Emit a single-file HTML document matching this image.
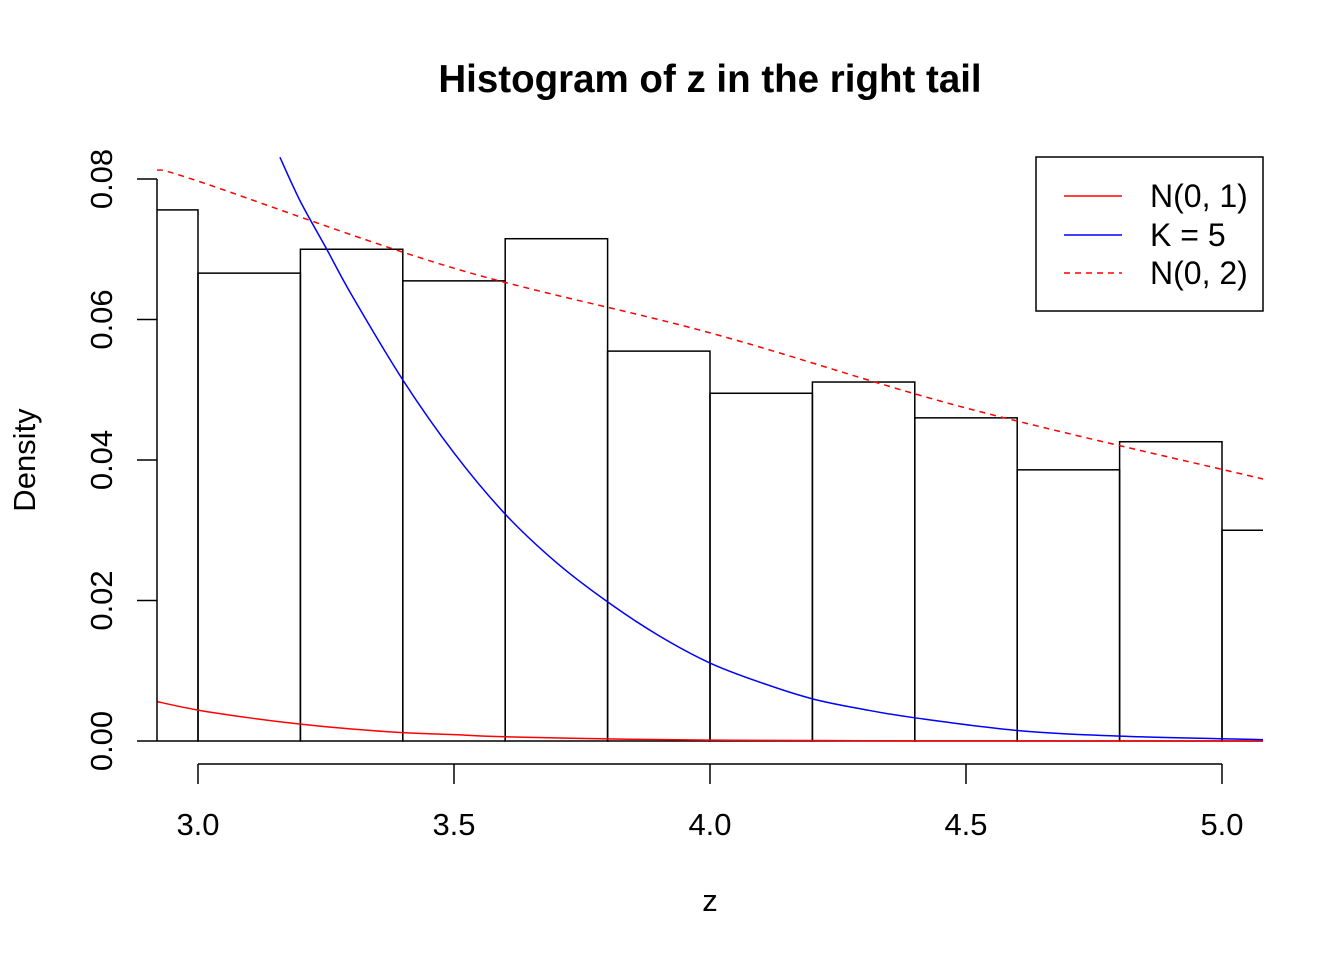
<!DOCTYPE html>
<html><head><meta charset="utf-8"><style>
body{margin:0;background:#fff}
text{font-family:"Liberation Sans",Arial,sans-serif}
</style></head><body>
<svg id="chart" width="1344" height="960" xmlns="http://www.w3.org/2000/svg">
<defs><clipPath id="pc"><rect x="157" y="157" width="1106" height="607"/></clipPath></defs>
<text x="710" y="92" text-anchor="middle" font-size="38.5" font-weight="bold">Histogram of z in the right tail</text>
<g id="plot" clip-path="url(#pc)"></g>
<g id="axes"></g>
<text x="710" y="911" text-anchor="middle" font-size="31">z</text>
<text transform="translate(35,460) rotate(-90)" text-anchor="middle" font-size="31">Density</text>
<g>
<rect x="1036" y="157" width="227" height="154" fill="#fff" stroke="#000" stroke-width="1.5"/>
<line x1="1064" y1="196" x2="1122" y2="196" stroke="#f00" stroke-width="1.5"/>
<text x="1150" y="207" font-size="32">N(0, 1)</text>
<line x1="1064" y1="235" x2="1122" y2="235" stroke="#00f" stroke-width="1.5"/>
<text x="1150" y="246" font-size="32">K = 5</text>
<line x1="1064" y1="273" x2="1122" y2="273" stroke="#f00" stroke-width="1.5" stroke-dasharray="6,5"/>
<text x="1150" y="284" font-size="32">N(0, 2)</text>
</g>
</svg>
<script>
const binStarts=[2.8,3.0,3.2,3.4,3.6,3.8,4.0,4.2,4.4,4.6,4.8,5.0];
const binDensity=[0.0756,0.0666,0.0700,0.0655,0.0715,0.0555,0.0495,0.0511,0.0460,0.0386,0.0426,0.0300];
const binWidth=0.2;
const redX=[2.92,3.0,3.1,3.2,3.3,3.4,3.5,3.6,3.8,4.0,4.3,4.6,5.08];
const redY=[0.0056,0.0044,0.0033,0.0024,0.0017,0.0012,0.0009,0.0006,0.0003,0.00013,0.00004,0.00001,0];
const blueX=[3.16,3.2,3.25,3.3,3.4,3.5,3.6,3.7,3.8,3.9,4.0,4.1,4.2,4.3,4.4,4.6,4.8,5.08];
const blueY=[0.0831,0.0768,0.0702,0.0635,0.0514,0.0410,0.0323,0.0254,0.0198,0.0150,0.0111,0.0083,0.0060,0.0045,0.0033,0.0015,0.0007,0.0002];
const dashX=[2.92,3.0,3.5,4.0,4.5,5.08];
const dashY=[0.0813,0.0797,0.0673,0.0581,0.0474,0.0373];
const xTicks=[3.0,3.5,4.0,4.5,5.0];
const xTickLabels=["3.0","3.5","4.0","4.5","5.0"];
const yTicks=[0,0.02,0.04,0.06,0.08];
const yTickLabels=["0.00","0.02","0.04","0.06","0.08"];
const sx=v=>198+(v-3)*512;
const sy=v=>741-v*7025;
const NS="http://www.w3.org/2000/svg";
const plot=document.getElementById('plot'),axes=document.getElementById('axes');
function mk(tag,attrs,parent){const e=document.createElementNS(NS,tag);for(const k in attrs)e.setAttribute(k,attrs[k]);parent.appendChild(e);return e;}
binStarts.forEach((b,i)=>{
 const r=mk('rect',{x:sx(b),y:sy(binDensity[i]),width:binWidth*512,height:sy(0)-sy(binDensity[i]),fill:'none',stroke:'#000','stroke-width':1.5},plot);
 
 
});
function smoothPath(xs,ys){
 const P=xs.map((x,i)=>[sx(x),sy(ys[i])]);
 let d=`M${P[0][0]},${P[0][1]}`;
 for(let i=0;i<P.length-1;i++){
  const p0=P[Math.max(i-1,0)],p1=P[i],p2=P[i+1],p3=P[Math.min(i+2,P.length-1)];
  const c1=[p1[0]+(p2[0]-p0[0])/6,p1[1]+(p2[1]-p0[1])/6];
  const c2=[p2[0]-(p3[0]-p1[0])/6,p2[1]-(p3[1]-p1[1])/6];
  d+=` C${c1[0]},${c1[1]} ${c2[0]},${c2[1]} ${p2[0]},${p2[1]}`;
 }
 return d;
}
function line(xs,ys,color,dash,name){
 const p=mk('path',{d:smoothPath(xs,ys),fill:'none',stroke:color,'stroke-width':1.5},plot);
 if(dash)p.setAttribute('stroke-dasharray',dash);
 
 
}
line(redX,redY,'#f00',null,'normal-density-curve');
line(blueX,blueY,'#00f',null,'k5-density-curve');
line(dashX,dashY,'#f00','6,5','normal2-density-curve');
mk('line',{x1:sx(xTicks[0]),x2:sx(xTicks[xTicks.length-1]),y1:764,y2:764,stroke:'#000','stroke-width':1.5},axes);
xTicks.forEach((t,i)=>{
 mk('line',{x1:sx(t),x2:sx(t),y1:764,y2:784,stroke:'#000','stroke-width':1.5},axes);
 const tx=mk('text',{x:sx(t),y:835,'text-anchor':'middle','font-size':31},axes);tx.textContent=xTickLabels[i];
 
 
});
mk('line',{x1:157,x2:157,y1:sy(yTicks[0]),y2:sy(yTicks[yTicks.length-1]),stroke:'#000','stroke-width':1.5},axes);
yTicks.forEach((t,i)=>{
 mk('line',{x1:137,x2:157,y1:sy(t),y2:sy(t),stroke:'#000','stroke-width':1.5},axes);
 const tx=mk('text',{transform:`translate(112,${sy(t)}) rotate(-90)`,'text-anchor':'middle','font-size':31},axes);tx.textContent=yTickLabels[i];
 
 
});
</script>
</body></html>
